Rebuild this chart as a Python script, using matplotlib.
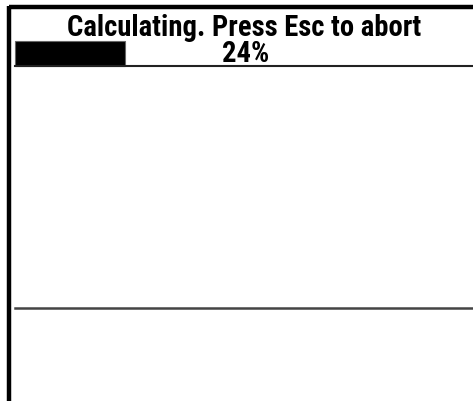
import matplotlib.pyplot as plt
from matplotlib import font_manager
from matplotlib.font_manager import FontProperties

# ── Data ─────────────────────────────────────────────────────────────────────
MESSAGE      = "Calculating. Press Esc to abort"
PROGRESS_PCT = [24]          # percent done
PROGRESS_MAX = 100

# ── Screen geometry (pixels) ─────────────────────────────────────────────────
W, H = 473, 401
BAR_LEFT, BAR_RIGHT = 15, 473

# look for a narrow / condensed bold face, fall back to DejaVu Sans Bold
narrow = None
for f in font_manager.fontManager.ttflist:
    fn = f.fname.lower()
    if ("narrow-bold." in fn or "condensed-bold." in fn) and "oblique" not in fn:
        narrow = f.fname
        if "liberation" in fn:
            break
if narrow:
    fp = FontProperties(fname=narrow, size=20.6)
else:
    fp = FontProperties(family="DejaVu Sans", weight="bold", size=15)

fig = plt.figure(figsize=(W / 100, H / 100), dpi=100)
ax = fig.add_axes([0, 0, 1, 1])
ax.set_xlim(0, W)
ax.set_ylim(H, 0)
ax.axis("off")

# frame: top and left borders
ax.plot([8.5, W], [7, 7], color="black", linewidth=3.2, solid_capstyle="butt")
ax.plot([8.5, 8.5], [5.5, H], color="black", linewidth=3.2, solid_capstyle="butt")

# progress bar
span = BAR_RIGHT - BAR_LEFT
ax.barh([53.5], [p / PROGRESS_MAX * span for p in PROGRESS_PCT], left=BAR_LEFT,
        height=25, color="black", edgecolor="#666666", linewidth=0.8)
ax.plot([BAR_LEFT, BAR_RIGHT], [66, 66], color="#222222", linewidth=1.5)

ax.text(W / 2 + 8, 28.5, MESSAGE, ha="center", va="center", fontproperties=fp)
ax.text(W / 2 + 9, 54.5, f"{PROGRESS_PCT[0]}%", ha="center", va="center",
        fontproperties=fp)

# divider line
ax.plot([BAR_LEFT, W], [308, 308], color="#444444", linewidth=1.8)

fig.savefig("out.png", dpi=100)
